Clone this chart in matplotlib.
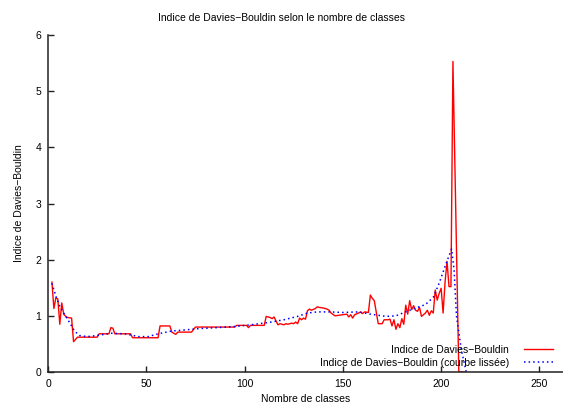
import matplotlib
matplotlib.use("Agg")
import matplotlib.pyplot as plt

plt.rcParams['font.family'] = ['Liberation Sans', 'DejaVu Sans']

TITLE = "Indice de Davies\u2212Bouldin selon le nombre de classes"
X_LABEL = "Nombre de classes"
Y_LABEL = "Indice de Davies\u2212Bouldin"
RAW_LABEL = "Indice de Davies\u2212Bouldin"
SMOOTH_LABEL = "Indice de Davies\u2212Bouldin (courbe liss\u00e9e)"

# raw index
raw_x = [2, 3, 4, 5, 6, 7, 8, 9, 10, 12, 13, 15, 25, 26, 31, 32, 33, 34, 42, 43,
         56, 57, 62, 63, 65, 66, 73, 75, 95, 96, 101, 102, 103, 110, 111, 113,
         114, 115, 117, 118, 120, 121, 122, 124, 125, 126, 127, 128, 129, 130,
         131, 132, 133, 134, 136, 137, 138, 140, 142, 143, 144, 146, 148, 150,
         152, 153, 154, 155, 156, 158, 159, 160, 161, 163, 164, 165, 166, 168,
         170, 171, 173, 174, 175, 176, 177, 178, 179, 180, 181, 182, 183, 184,
         185, 186, 187, 188, 189, 190, 191, 192, 193, 194, 195, 196, 197, 198,
         199, 200, 201, 202, 203, 204, 205, 206, 209, 212]
raw_y = [1.60, 1.13, 1.32, 1.30, 0.85, 1.23, 1.03, 0.99, 0.97, 0.96, 0.54, 0.62,
         0.62, 0.68, 0.68, 0.79, 0.78, 0.68, 0.68, 0.61, 0.61, 0.82, 0.82, 0.71,
         0.67, 0.71, 0.71, 0.80, 0.80, 0.83, 0.83, 0.79, 0.83, 0.83, 0.99, 0.97,
         0.95, 0.98, 0.84, 0.86, 0.84, 0.86, 0.85, 0.87, 0.86, 0.89, 0.86, 0.96,
         0.93, 0.96, 0.94, 1.09, 1.12, 1.10, 1.13, 1.16, 1.15, 1.14, 1.12, 1.10,
         1.05, 1.00, 1.01, 1.02, 1.03, 0.98, 1.02, 0.96, 1.02, 1.05, 1.07, 1.04,
         1.07, 1.06, 1.37, 1.31, 1.27, 0.86, 0.86, 0.93, 0.93, 0.94, 0.82, 0.93,
         0.76, 0.86, 0.79, 0.95, 0.85, 1.19, 1.03, 1.27, 1.11, 1.18, 1.10, 1.08,
         1.15, 0.99, 1.02, 1.05, 1.10, 1.01, 1.09, 1.05, 1.46, 1.28, 1.40, 1.49,
         1.05, 1.60, 1.97, 1.52, 1.52, 5.53, 0.0, 0.0]

# smoothed curve
smooth_x = [2, 4, 6, 8.5, 11, 13.5, 16, 20, 25, 32, 39, 46, 51, 56, 63, 70, 76,
            86, 95, 103, 112, 120, 127, 132, 137, 143, 150, 158, 164, 172, 177,
            184, 192, 196, 199, 202, 205.3, 206.6, 207.8, 210.3, 212.8]
smooth_y = [1.58, 1.35, 1.17, 1.02, 0.88, 0.73, 0.65, 0.63, 0.65, 0.69, 0.68,
            0.63, 0.63, 0.68, 0.73, 0.75, 0.77, 0.79, 0.81, 0.84, 0.88, 0.93,
            0.99, 1.05, 1.07, 1.07, 1.06, 1.07, 1.03, 0.99, 1.00, 1.10, 1.20,
            1.33, 1.58, 1.88, 2.19, 1.82, 1.00, 0.39, 0.0]

x_ticks = [0, 50, 100, 150, 200, 250]
y_ticks = [0, 1, 2, 3, 4, 5, 6]

fig = plt.figure(figsize=(5.63, 4.05), dpi=100)
ax = fig.add_axes([48 / 563, 33 / 405, 515 / 563, 337 / 405])

ax.plot(raw_x, raw_y, color="#ff0000", lw=1.0, label=RAW_LABEL)
ax.plot(smooth_x, smooth_y, color="#0000ff", lw=1.1, linestyle=(0, (1, 2)),
        label=SMOOTH_LABEL)

ax.set_xlim(0, 262)
ax.set_ylim(0, 6)
ax.set_xticks(x_ticks)
ax.set_yticks(y_ticks)
ax.spines['top'].set_visible(False)
ax.spines['right'].set_visible(False)
for s in ('left', 'bottom'):
    ax.spines[s].set_linewidth(1.1)
    ax.spines[s].set_color("#222222")
ax.tick_params(direction='in', length=4, width=1, labelsize=7.5, pad=5,
               color="#222222")

ax.set_xlabel(X_LABEL, fontsize=7.5, labelpad=4)
ax.set_ylabel(Y_LABEL, fontsize=7.5, labelpad=8)
fig.text(0.5, 1 - 18.3 / 405, TITLE, ha='center', va='center', fontsize=7.5)

leg = ax.legend(loc='lower right', bbox_to_anchor=(0.98, 0.012), frameon=False,
                markerfirst=False, fontsize=7.5, handlelength=2.8,
                handletextpad=1.4, labelspacing=0.3, borderpad=0,
                borderaxespad=0)

fig.savefig("out.png", dpi=100)
